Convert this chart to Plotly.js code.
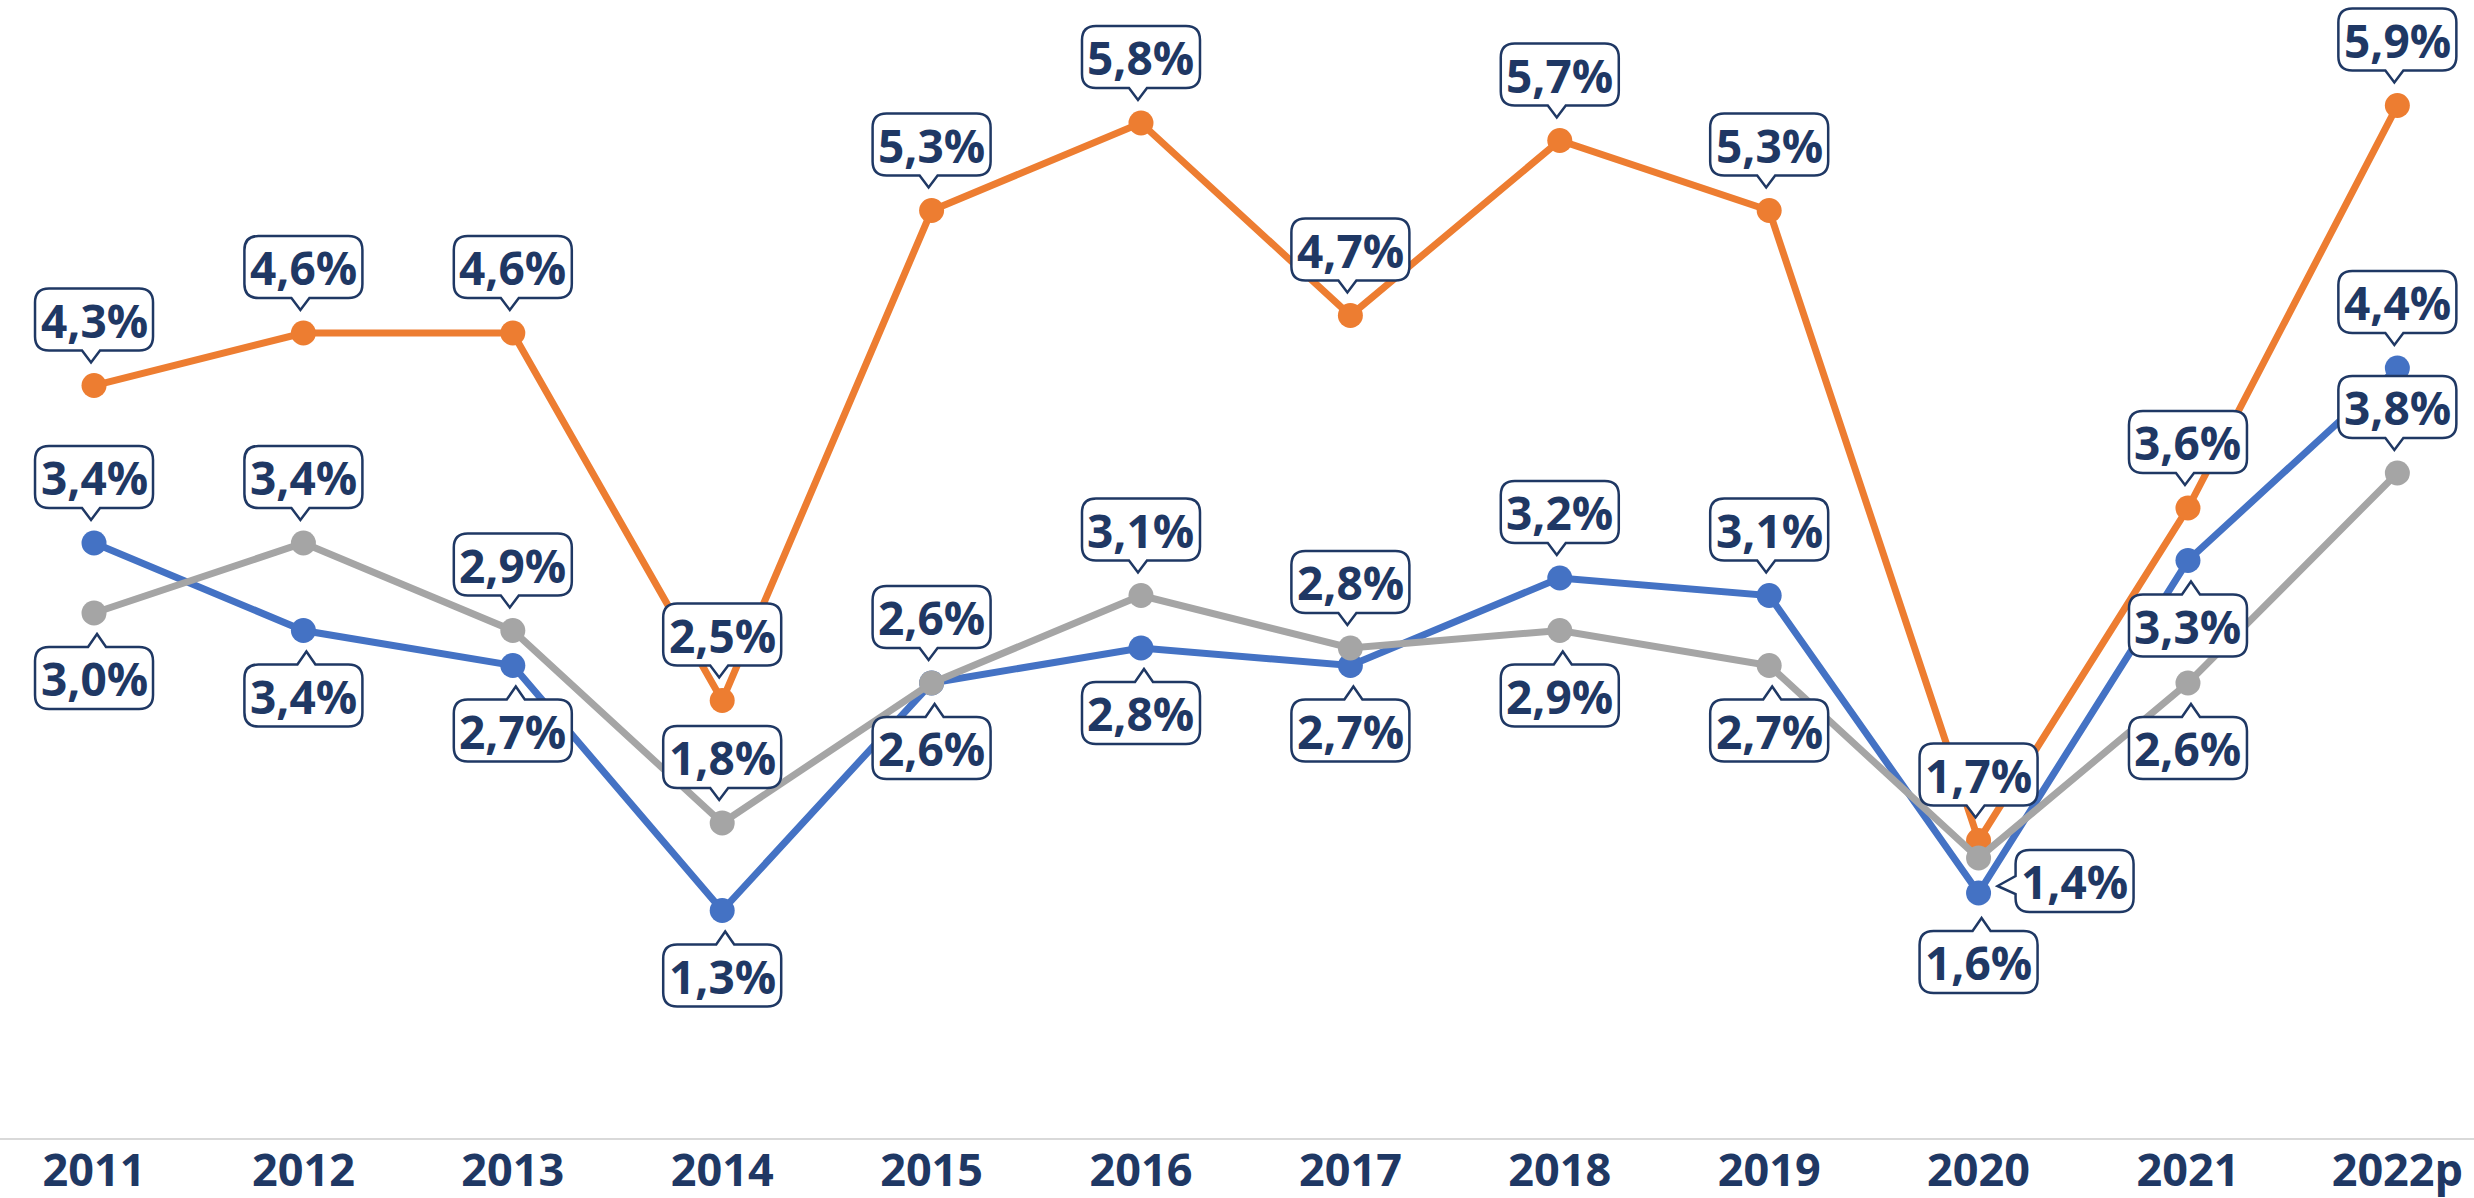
<!DOCTYPE html>
<html>
<head>
<meta charset="utf-8">
<script src="https://cdn.plot.ly/plotly-3.0.1.min.js"></script>
<style>
  html, body { margin: 0; padding: 0; background: #ffffff; }
  #growthPlot { width: 2474px; height: 1198px; }
</style>
</head>
<body>
<div id="growthPlot"></div>
<script>
let years = ['2011', '2012', '2013', '2014', '2015', '2016', '2017', '2018', '2019', '2020', '2021', '2022p'];

let orangeValues = [4.3, 4.6, 4.6, 2.5, 5.3, 5.8, 4.7, 5.7, 5.3, 1.7, 3.6, 5.9];
let blueValues = [3.4, 2.9, 2.7, 1.3, 2.6, 2.8, 2.7, 3.2, 3.1, 1.4, 3.3, 4.4];
let grayValues = [3.0, 3.4, 2.9, 1.8, 2.6, 3.1, 2.8, 2.9, 2.7, 1.6, 2.6, 3.8];

// labels as printed in the original (blue 2012 is printed as 3,4%)
let orangeLabels = ['4,3%', '4,6%', '4,6%', '2,5%', '5,3%', '5,8%', '4,7%', '5,7%', '5,3%', '1,7%', '3,6%', '5,9%'];
let blueLabels = ['3,4%', '3,4%', '2,7%', '1,3%', '2,6%', '2,8%', '2,7%', '3,2%', '3,1%', '1,4%', '3,3%', '4,4%'];
let grayLabels = ['3,0%', '3,4%', '2,9%', '1,8%', '2,6%', '3,1%', '2,8%', '2,9%', '2,7%', '1,6%', '2,6%', '3,8%'];

// where each callout sits relative to its point
let orangeSides = ['up', 'up', 'up', 'up', 'up', 'up', 'up', 'up', 'up', 'up', 'up', 'up'];
let blueSides = ['up', 'down', 'down', 'down', 'down', 'down', 'down', 'up', 'up', 'right', 'down', 'up'];
let graySides = ['down', 'up', 'up', 'up', 'up', 'up', 'up', 'down', 'down', 'downlow', 'down', 'up'];

let navy = '#1f3864';
let xIdx = years.map((y, i) => i);

function makeTrace(values, color) {
  return {
    x: xIdx,
    y: values,
    type: 'scatter',
    mode: 'lines+markers',
    line: { color: color, width: 7 },
    marker: { color: color, size: 25 },
    hoverinfo: 'skip'
  };
}

// rounded box with a small pointer, in pixels around the anchor (y up)
function calloutPath(x0, x1, y0, y1, side, tipX, tipY, baseC) {
  let r = 14, hw = 9;
  let p = `M${x0 + r},${y1} `;
  if (side === 'top') p += `L${baseC - hw},${y1} L${tipX},${tipY} L${baseC + hw},${y1} `;
  p += `L${x1 - r},${y1} Q${x1},${y1} ${x1},${y1 - r} `;
  p += `L${x1},${y0 + r} Q${x1},${y0} ${x1 - r},${y0} `;
  if (side === 'bottom') p += `L${baseC + hw},${y0} L${tipX},${tipY} L${baseC - hw},${y0} `;
  p += `L${x0 + r},${y0} Q${x0},${y0} ${x0},${y0 + r} `;
  if (side === 'left') p += `L${x0},${baseC - hw} L${tipX},${tipY} L${x0},${baseC + hw} `;
  p += `L${x0},${y1 - r} Q${x0},${y1} ${x0 + r},${y1} Z`;
  return p;
}

let shapes = [];
let annotations = [];

function addCallouts(values, labels, sides) {
  let w = 118, h = 62;
  values.forEach((v, i) => {
    let side = sides[i];
    let cx = 0, cy = 0, path;
    if (side === 'up') {
      cy = 66;
      path = calloutPath(-w / 2, w / 2, cy - h / 2, cy + h / 2, 'bottom', -3, cy - h / 2 - 12, -3);
    } else if (side === 'down' || side === 'downlow') {
      cy = side === 'down' ? -65 : -104;
      path = calloutPath(-w / 2, w / 2, cy - h / 2, cy + h / 2, 'top', 3, cy + h / 2 + 13, 3);
    } else {
      cx = 96; cy = 12;
      path = calloutPath(cx - w / 2, cx + w / 2, cy - h / 2, cy + h / 2, 'left', 19, 7, 8);
    }
    shapes.push({
      type: 'path',
      xref: 'x', yref: 'y',
      xsizemode: 'pixel', ysizemode: 'pixel',
      xanchor: i, yanchor: v,
      path: path,
      fillcolor: '#ffffff',
      line: { color: navy, width: 2.5 },
      layer: 'above'
    });
    annotations.push({
      x: i, y: v,
      xref: 'x', yref: 'y',
      xshift: cx, yshift: cy,
      text: labels[i],
      showarrow: false,
      xanchor: 'center', yanchor: 'middle',
      font: { family: 'Open Sans', size: 46, color: navy, weight: 'bold' }
    });
  });
}

addCallouts(orangeValues, orangeLabels, orangeSides);
addCallouts(blueValues, blueLabels, blueSides);
addCallouts(grayValues, grayLabels, graySides);

let data = [
  makeTrace(orangeValues, '#ed7d31'),
  makeTrace(blueValues, '#4472c4'),
  makeTrace(grayValues, '#a5a5a5')
];

let layout = {
  width: 2474,
  height: 1198,
  margin: { l: 0, r: 0, t: 0, b: 60 },
  paper_bgcolor: '#ffffff',
  plot_bgcolor: '#ffffff',
  showlegend: false,
  xaxis: {
    range: [-0.449, 11.366],
    tickvals: xIdx,
    ticktext: years,
    showline: true,
    linecolor: '#d9d9d9',
    linewidth: 2,
    showgrid: false,
    zeroline: false,
    ticks: '',
    ticklabelstandoff: -8,
    automargin: false,
    tickfont: { family: 'Open Sans', size: 45, color: navy, weight: 'bold' }
  },
  yaxis: {
    range: [0, 6.503],
    showgrid: false,
    zeroline: false,
    showticklabels: false,
    automargin: false
  },
  shapes: shapes,
  annotations: annotations
};

Plotly.newPlot('growthPlot', data, layout, { displayModeBar: false, staticPlot: true });
</script>
</body>
</html>
